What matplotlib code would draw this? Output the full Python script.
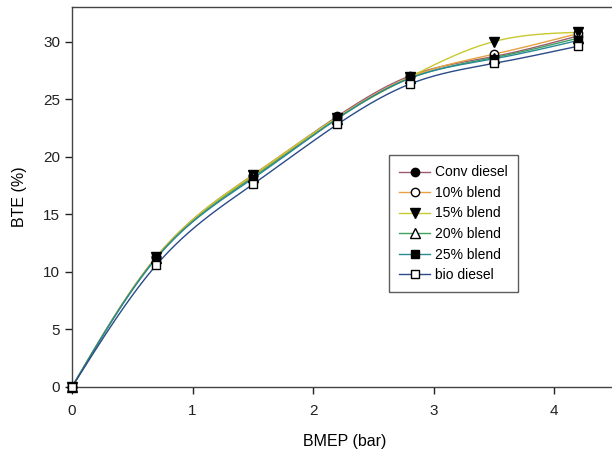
import numpy as np
import matplotlib
matplotlib.use("Agg")
import matplotlib.pyplot as plt
from matplotlib.lines import Line2D

bmep = [0.0, 0.7, 1.5, 2.2, 2.8, 3.5, 4.2]
conv_diesel = [0.0, 11.3, 18.4, 23.5, 27.0, 28.7, 30.5]
blend10 = [0.0, 11.3, 18.3, 23.4, 26.9, 28.9, 30.7]
blend15 = [0.0, 11.3, 18.4, 23.4, 26.9, 30.0, 30.8]
blend20 = [0.0, 11.2, 18.2, 23.3, 26.8, 28.6, 30.3]
blend25 = [0.0, 11.2, 18.1, 23.3, 26.8, 28.5, 30.1]
bio_diesel = [0.0, 10.6, 17.6, 22.8, 26.3, 28.1, 29.6]

labels = ["Conv diesel", "10% blend", "15% blend", "20% blend", "25% blend", "bio diesel"]
series = [conv_diesel, blend10, blend15, blend20, blend25, bio_diesel]
colors = ["#9b5a70", "#e8a040", "#c8c830", "#40a060", "#2a8a96", "#2a4a88"]
markers = ["o", "o", "v", "^", "s", "s"]
faces = ["black", "white", "black", "white", "black", "white"]


def natural_spline(x, y, n=300):
    x = np.asarray(x, float)
    y = np.asarray(y, float)
    m = len(x)
    h = np.diff(x)
    A = np.zeros((m, m))
    b = np.zeros(m)
    A[0, 0] = 1
    A[-1, -1] = 1
    for i in range(1, m - 1):
        A[i, i - 1] = h[i - 1]
        A[i, i] = 2 * (h[i - 1] + h[i])
        A[i, i + 1] = h[i]
        b[i] = 3 * ((y[i + 1] - y[i]) / h[i] - (y[i] - y[i - 1]) / h[i - 1])
    c = np.linalg.solve(A, b)
    xs = np.linspace(x[0], x[-1], n)
    ys = np.empty_like(xs)
    for k, xv in enumerate(xs):
        i = min(np.searchsorted(x, xv, side="right") - 1, m - 2)
        dx = xv - x[i]
        bi = (y[i + 1] - y[i]) / h[i] - h[i] * (2 * c[i] + c[i + 1]) / 3
        di = (c[i + 1] - c[i]) / (3 * h[i])
        ys[k] = y[i] + bi * dx + c[i] * dx ** 2 + di * dx ** 3
    return xs, ys


plt.rcParams["font.family"] = ["Liberation Sans", "DejaVu Sans"]
fig = plt.figure(figsize=(6.12, 4.55), dpi=100)
ax_w = (612 - 72) / 612 + 0.01
ax = fig.add_axes([72 / 612, 1 - 387 / 455, ax_w, (387 - 7) / 455])

handles = []
for lab, ys, col in zip(labels, series, colors):
    xs_s, ys_s = natural_spline(bmep, ys)
    ax.plot(xs_s, ys_s, color=col, lw=1.0, zorder=2)
for lab, ys, col, mk, fc in zip(labels, series, colors, markers, faces):
    ms = 6.5 if mk in ("v", "^") else 6
    ax.plot(bmep, ys, linestyle="none", marker=mk, ms=ms,
            mfc=fc, mec="black", mew=1.0, zorder=3, clip_on=False)
    handles.append(Line2D([], [], color=col, lw=1.0, marker=mk, ms=ms,
                          mfc=fc, mec="black", mew=1.0))

ax.set_xlim(0, 4.53)
ax.set_ylim(0, 33)
ax.set_xticks([0, 1, 2, 3, 4])
ax.set_yticks([0, 5, 10, 15, 20, 25, 30])
ax.tick_params(direction="out", length=5, width=1, labelsize=11, colors="#222222")
ax.tick_params(axis="x", pad=7)
ax.spines["right"].set_visible(False)
for s in ["left", "bottom", "top"]:
    ax.spines[s].set_color("#444444")
    ax.spines[s].set_linewidth(1.0)
ax.set_xlabel("BMEP (bar)", fontsize=11.5, labelpad=12)
ax.set_ylabel("BTE (%)", fontsize=11.5, labelpad=12)

leg = ax.legend(handles, labels, loc="upper left",
                bbox_to_anchor=(317 / 612 / ax_w, 1 - 148 / 380),
                frameon=True, fancybox=False, edgecolor="#333333", fontsize=10,
                handlelength=2.2, handletextpad=0.35, labelspacing=0.47, borderpad=0.75,
                borderaxespad=0)
leg.get_frame().set_linewidth(1.0)

fig.savefig("out.png", dpi=100)
